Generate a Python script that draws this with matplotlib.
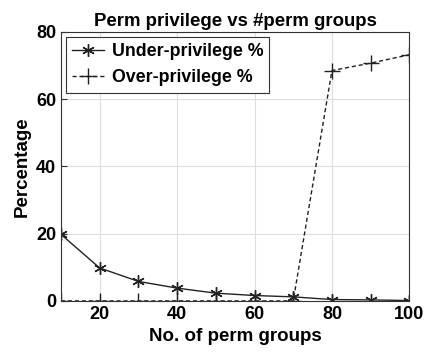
import matplotlib
matplotlib.use("Agg")
import matplotlib.pyplot as plt

groups = [10, 20, 30, 40, 50, 60, 70, 80, 90, 100]
under_priv = [19.8, 9.8, 5.8, 3.8, 2.3, 1.6, 1.2, 0.4, 0.3, 0.1]
over_priv = [0, 0, 0, 0, 0, 0, 0, 68.5, 70.7, 73.2]

plt.rcParams["font.family"] = ["Liberation Sans", "DejaVu Sans"]
plt.rcParams["font.weight"] = "bold"

fig = plt.figure(figsize=(4.26, 3.54), dpi=100)
ax = fig.add_axes([0.143, 0.150, 0.818, 0.760])

ax.plot(groups, under_priv, "-", color="#222222", marker=(6, 2, 0), markersize=9,
        linewidth=1.0, label="Under-privilege %")
ax.plot(groups, over_priv, "--", dashes=(3, 2), color="#222222", marker="+",
        markersize=11, linewidth=1.0, label="Over-privilege %")

ax.set_xlim(10, 100)
ax.set_ylim(0, 80)
ax.set_xticks([20, 40, 60, 80, 100])
ax.set_yticks([0, 20, 40, 60, 80])
ax.grid(True, color="#dddddd", linewidth=0.8)
ax.tick_params(direction="in", labelsize=13, length=4, color="#333333")
for s in ax.spines.values():
    s.set_color("#333333")

ax.set_title("Perm privilege vs #perm groups", fontsize=13.4, fontweight="bold", pad=4)
ax.set_xlabel("No. of perm groups", fontsize=13.5, fontweight="bold")
ax.set_ylabel("Percentage", fontsize=13.5, fontweight="bold")

leg = ax.legend(loc="upper left", fontsize=12.8, fancybox=False, framealpha=1,
                edgecolor="#333333", handlelength=1.8, handletextpad=0.4,
                borderaxespad=0.3, borderpad=0.35)
leg.get_frame().set_linewidth(0.8)

fig.savefig("out.png", dpi=100)
